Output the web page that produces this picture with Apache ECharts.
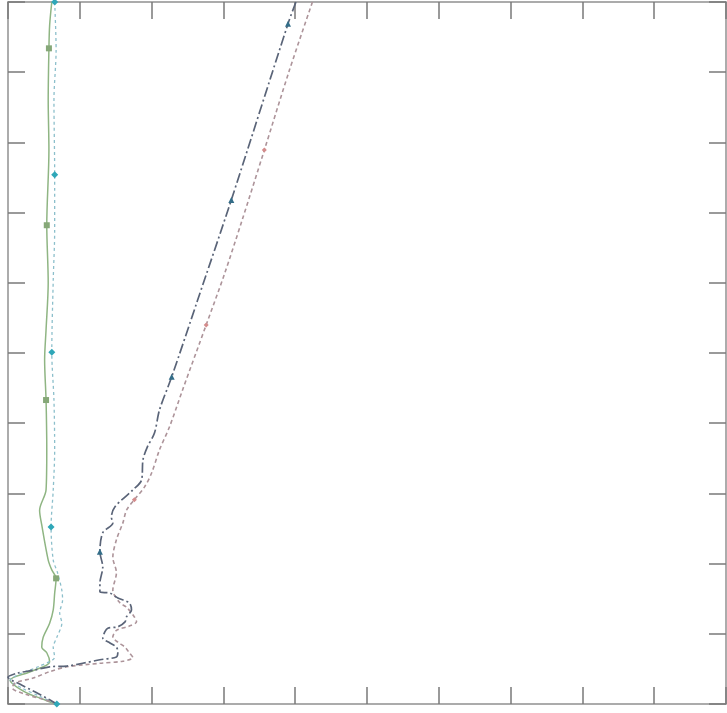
<!DOCTYPE html>
<html>
<head>
<meta charset="utf-8">
<script src="https://cdn.jsdelivr.net/npm/echarts@6/dist/echarts.min.js"></script>
<style>
html, body { margin: 0; padding: 0; background: #fff; }
#main { width: 727px; height: 713px; }
</style>
</head>
<body>
<div id="main"></div>
<script>
// profile values (x) against depth (y, 0 at top)
var lineA_x = [4.01, 3.90, 3.11, 2.64, 2.28, 2.11, 2.04, 1.94, 1.88, 1.86, 1.74, 1.49, 1.44, 1.46, 1.32, 1.28, 1.32, 1.28, 1.28, 1.42, 1.53, 1.69, 1.72, 1.65, 1.63, 1.53, 1.39, 1.35, 1.32, 1.42, 1.51, 1.53, 1.51, 1.28, 1.04, 0.82, 0.58, 0.35, 0.13, 0.00, 0.17, 0.38, 0.58, 0.68];
var lineA_d = [0.00, 0.31, 2.82, 4.25, 5.34, 5.81, 6.14, 6.34, 6.52, 6.81, 6.95, 7.19, 7.34, 7.42, 7.56, 7.83, 8.05, 8.28, 8.40, 8.42, 8.49, 8.56, 8.66, 8.76, 8.83, 8.90, 8.92, 8.97, 9.06, 9.13, 9.19, 9.26, 9.33, 9.37, 9.42, 9.46, 9.47, 9.52, 9.56, 9.62, 9.72, 9.83, 9.94, 10.0];
var lineA_marks = [1, 2, 4, 15];

var lineB_x = [4.24, 3.92, 3.57, 3.26, 3.01, 2.76, 2.43, 2.25, 2.11, 2.00, 1.90, 1.76, 1.65, 1.60, 1.51, 1.46, 1.51, 1.46, 1.56, 1.65, 1.76, 1.79, 1.69, 1.51, 1.46, 1.53, 1.63, 1.69, 1.74, 1.60, 1.28, 0.82, 0.58, 0.35, 0.10, 0.06, 0.24, 0.51, 0.68];
var lineB_d = [0.00, 0.97, 2.11, 3.11, 3.89, 4.60, 5.53, 6.05, 6.38, 6.71, 6.91, 7.09, 7.24, 7.42, 7.66, 7.91, 8.13, 8.38, 8.56, 8.62, 8.76, 8.83, 8.89, 8.95, 9.05, 9.12, 9.19, 9.27, 9.34, 9.39, 9.42, 9.47, 9.54, 9.63, 9.70, 9.77, 9.86, 9.94, 10.0];
var lineB_marks = [2, 5, 11];

var lineC_x = [0.61, 0.58, 0.57, 0.56, 0.57, 0.54, 0.56, 0.53, 0.51, 0.53, 0.54, 0.53, 0.44, 0.47, 0.56, 0.61, 0.67, 0.65, 0.63, 0.58, 0.49, 0.47, 0.54, 0.58, 0.31, 0.03, 0.24, 0.51, 0.65];
var lineC_d = [0.00, 0.33, 0.66, 1.40, 2.11, 3.18, 4.00, 4.67, 5.10, 5.67, 6.38, 6.95, 7.24, 7.45, 7.95, 8.09, 8.21, 8.42, 8.66, 8.85, 9.05, 9.19, 9.27, 9.40, 9.54, 9.66, 9.83, 9.94, 10.0];
var lineC_marks = [2, 5, 9, 16];

var lineD_x = [0.65, 0.67, 0.64, 0.65, 0.65, 0.63, 0.61, 0.64, 0.65, 0.63, 0.60, 0.63, 0.69, 0.75, 0.76, 0.72, 0.75, 0.68, 0.63, 0.65, 0.44, 0.17, 0.03, 0.19, 0.44, 0.68];
var lineD_d = [0.00, 0.68, 1.40, 2.46, 3.25, 3.96, 4.99, 5.67, 6.38, 6.95, 7.48, 7.95, 8.13, 8.38, 8.52, 8.70, 8.85, 9.05, 9.19, 9.33, 9.46, 9.57, 9.66, 9.77, 9.89, 10.0];
var lineD_marks = [0, 3, 6, 10, 25];

function buildData(xs, ds, marks, sym, size, col){
    var out = [];
    for (var i = 0; i < xs.length; i++) {
        if (marks.indexOf(i) >= 0) {
            out.push({value: [xs[i], ds[i]], symbol: sym, symbolSize: size, itemStyle: {color: col}});
        } else {
            out.push({value: [xs[i], ds[i]], symbol: 'none'});
        }
    }
    return out;
}

var chartDom = document.getElementById('main');
var myChart = echarts.init(chartDom);
var option;

var frame = {show: true, onZero: false, lineStyle: {color: '#909090', width: 1.5}};
var ticks = {show: true, inside: true, length: 17, lineStyle: {color: '#7a7a7a', width: 1.5}};

function xAx(pos){
    return {type: 'value', position: pos, min: 0, max: 10, interval: 1,
        axisLine: frame, axisTick: ticks, axisLabel: {show: false}, splitLine: {show: false}};
}
function yAx(pos){
    return {type: 'value', position: pos, min: 0, max: 10, interval: 1, inverse: true,
        axisLine: frame, axisTick: ticks, axisLabel: {show: false}, splitLine: {show: false}};
}

option = {
    backgroundColor: '#ffffff',
    animation: false,
    grid: {left: 8, right: 1, top: 2, bottom: 9},
    xAxis: [xAx('bottom'), xAx('top')],
    yAxis: [yAx('left'), yAx('right')],
    series: [
        {type: 'line', xAxisIndex: 0, yAxisIndex: 0, clip: true, showSymbol: true, smooth: 0.3,
            data: buildData(lineC_x, lineC_d, lineC_marks, 'rect', 6, '#86a878'),
            lineStyle: {color: '#8fb583', width: 1.5}},
        {type: 'line', xAxisIndex: 0, yAxisIndex: 0, clip: true, showSymbol: true, smooth: 0.3,
            data: buildData(lineD_x, lineD_d, lineD_marks, 'diamond', 7, '#2fa7b8'),
            lineStyle: {color: '#8cbfcb', width: 1.3, type: [3, 3]}},
        {type: 'line', xAxisIndex: 0, yAxisIndex: 0, clip: true, showSymbol: true, smooth: 0.3,
            data: buildData(lineB_x, lineB_d, lineB_marks, 'diamond', 5, '#d48c8c'),
            lineStyle: {color: '#ad949a', width: 1.6, type: [4, 3]}},
        {type: 'line', xAxisIndex: 0, yAxisIndex: 0, clip: true, showSymbol: true, smooth: 0.3,
            data: buildData(lineA_x, lineA_d, lineA_marks, 'triangle', 6, '#336d88'),
            lineStyle: {color: '#5a6478', width: 1.7, type: [10, 3, 2, 3]}}
    ]
};
option && myChart.setOption(option);
</script>
</body>
</html>
